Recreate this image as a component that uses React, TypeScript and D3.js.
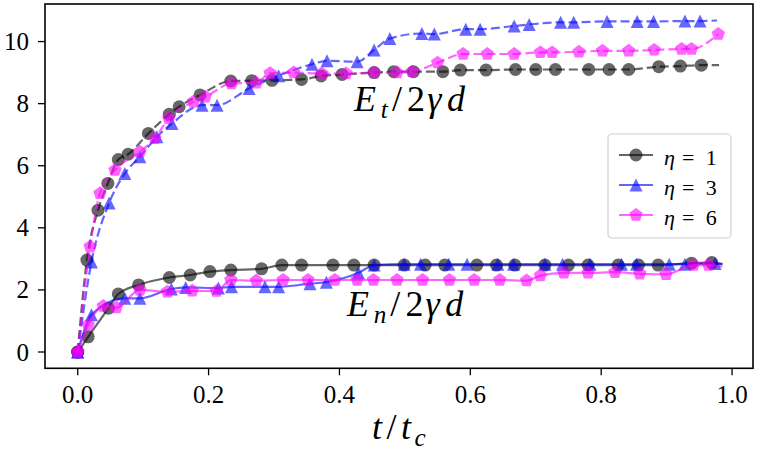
import React from 'react';
import * as d3 from 'd3';

// ---------- data ----------
const xTicks = [0, 0.2, 0.4, 0.6, 0.8, 1.0];
const yTicks = [0, 2, 4, 6, 8, 10];
const etaLabels = ['1', '3', '6'];

// Tangential energy E_t/2γd (dashed)
const etEta1X = [0, 0.014, 0.031, 0.046, 0.062, 0.077, 0.108, 0.140, 0.155, 0.187, 0.234, 0.266, 0.297, 0.342, 0.372, 0.404, 0.453, 0.483, 0.513, 0.558, 0.585, 0.624, 0.669, 0.700, 0.730, 0.781, 0.812, 0.842, 0.888, 0.921, 0.953, 0.980];
const etEta1Y = [0, 2.96, 4.57, 5.43, 6.20, 6.37, 7.04, 7.66, 7.90, 8.28, 8.73, 8.74, 8.75, 8.78, 8.89, 8.94, 9.00, 9.03, 9.03, 9.03, 9.08, 9.08, 9.10, 9.10, 9.10, 9.10, 9.10, 9.10, 9.19, 9.21, 9.24, 9.24];
const etEta3X = [0, 0.021, 0.048, 0.072, 0.095, 0.121, 0.144, 0.190, 0.213, 0.262, 0.307, 0.358, 0.381, 0.427, 0.453, 0.477, 0.526, 0.545, 0.593, 0.615, 0.667, 0.690, 0.738, 0.758, 0.809, 0.855, 0.880, 0.928, 0.951, 0.977];
const etEta3Y = [0, 2.90, 4.80, 5.75, 6.29, 6.93, 7.36, 7.95, 7.95, 8.49, 8.90, 9.27, 9.38, 9.35, 9.73, 10.10, 10.26, 10.24, 10.40, 10.40, 10.50, 10.55, 10.62, 10.62, 10.65, 10.65, 10.65, 10.66, 10.66, 10.68];
const etEta6X = [0, 0.019, 0.034, 0.057, 0.095, 0.118, 0.139, 0.177, 0.195, 0.235, 0.273, 0.294, 0.330, 0.373, 0.410, 0.453, 0.488, 0.511, 0.550, 0.589, 0.626, 0.667, 0.707, 0.725, 0.766, 0.802, 0.842, 0.881, 0.923, 0.938, 0.979];
const etEta6Y = [0, 3.39, 5.11, 5.86, 6.45, 6.88, 7.53, 8.06, 8.22, 8.65, 8.67, 8.98, 9.00, 8.97, 8.97, 9.00, 9.00, 9.03, 9.32, 9.60, 9.60, 9.60, 9.65, 9.65, 9.67, 9.70, 9.70, 9.73, 9.76, 9.76, 10.24];

// Normal energy E_n/2γd (solid)
const enEta1X = [0, 0.016, 0.047, 0.062, 0.093, 0.140, 0.172, 0.202, 0.234, 0.281, 0.312, 0.342, 0.390, 0.422, 0.453, 0.499, 0.531, 0.561, 0.610, 0.640, 0.668, 0.714, 0.750, 0.780, 0.826, 0.857, 0.887, 0.938, 0.969, 0.984];
const enEta1Y = [0, 0.49, 1.41, 1.87, 2.16, 2.40, 2.48, 2.59, 2.64, 2.68, 2.80, 2.80, 2.80, 2.80, 2.80, 2.80, 2.80, 2.80, 2.80, 2.80, 2.80, 2.80, 2.80, 2.80, 2.80, 2.80, 2.80, 2.86, 2.88, 2.84];
const enEta3X = [0, 0.021, 0.072, 0.095, 0.143, 0.165, 0.215, 0.235, 0.286, 0.307, 0.355, 0.380, 0.429, 0.453, 0.499, 0.524, 0.567, 0.595, 0.642, 0.666, 0.714, 0.741, 0.783, 0.831, 0.854, 0.904, 0.928, 0.974, 0.986];
const enEta3Y = [0, 1.20, 1.73, 1.73, 2.03, 2.08, 2.06, 2.10, 2.10, 2.10, 2.20, 2.25, 2.55, 2.80, 2.83, 2.83, 2.83, 2.83, 2.83, 2.83, 2.83, 2.83, 2.83, 2.83, 2.83, 2.83, 2.83, 2.85, 2.83];
const enEta6X = [0, 0.016, 0.039, 0.059, 0.095, 0.137, 0.175, 0.212, 0.234, 0.273, 0.314, 0.352, 0.393, 0.427, 0.452, 0.488, 0.527, 0.568, 0.606, 0.645, 0.686, 0.707, 0.743, 0.780, 0.821, 0.859, 0.899, 0.941, 0.964, 0.985];
const enEta6Y = [0, 0.87, 1.48, 1.43, 2.00, 1.94, 1.97, 1.96, 2.32, 2.30, 2.32, 2.32, 2.32, 2.32, 2.32, 2.32, 2.32, 2.32, 2.32, 2.32, 2.30, 2.46, 2.55, 2.55, 2.57, 2.52, 2.50, 2.80, 2.80, 2.75];

// ---------- styling ----------
const W = 764;
const H = 460;
const FONT = 'Liberation Serif, DejaVu Serif, Times New Roman, serif';
const COLORS = ['#000000', '#0000ff', '#ff00ff'];
const SHAPES = ['o', '^', 'p'] as const;
const ALPHA = 0.6;
const MS = 13;

type Shape = 'o' | '^' | 'p';
type Series = { xs: number[]; ys: number[]; marked: number; color: string; shape: Shape; dashed: boolean };

const series: Series[] = [
  { xs: etEta1X, ys: etEta1Y, marked: etEta1X.length - 1, color: COLORS[0], shape: 'o', dashed: true },
  { xs: enEta1X, ys: enEta1Y, marked: enEta1X.length - 1, color: COLORS[0], shape: 'o', dashed: false },
  { xs: etEta3X, ys: etEta3Y, marked: etEta3X.length - 1, color: COLORS[1], shape: '^', dashed: true },
  { xs: enEta3X, ys: enEta3Y, marked: enEta3X.length - 1, color: COLORS[1], shape: '^', dashed: false },
  { xs: etEta6X, ys: etEta6Y, marked: etEta6X.length, color: COLORS[2], shape: 'p', dashed: true },
  { xs: enEta6X, ys: enEta6Y, marked: enEta6X.length - 1, color: COLORS[2], shape: 'p', dashed: false },
];

const x = d3.scaleLinear().domain([-0.05, 1.032]).range([45, 753]);
const y = d3.scaleLinear().domain([-0.525, 11.21]).range([368.3, 4]);

function markerPath(shape: Shape, cx: number, cy: number, size: number): string {
  const r = size / 2;
  const p = d3.path();
  if (shape === 'o') {
    p.moveTo(cx + r, cy);
    p.arc(cx, cy, r, 0, Math.PI * 2);
  } else if (shape === '^') {
    p.moveTo(cx, cy - r);
    p.lineTo(cx - r, cy + r);
    p.lineTo(cx + r, cy + r);
  } else {
    const R = r * 1.08;
    for (let i = 0; i < 5; i++) {
      const a = -Math.PI / 2 + (i * 2 * Math.PI) / 5;
      const px = cx + R * Math.cos(a);
      const py = cy + R * Math.sin(a);
      if (i === 0) p.moveTo(px, py);
      else p.lineTo(px, py);
    }
  }
  p.closePath();
  return p.toString();
}

type Part = { t: string; w: number; it?: boolean; sub?: boolean };

function MathText({ x0, y0, size, parts, anchor = 'start' }: { x0: number; y0: number; size: number; parts: Part[]; anchor?: string }) {
  const total = parts.reduce((s, p) => s + p.w * (p.sub ? 0.7 : 1) * size, 0);
  let cur = anchor === 'middle' ? x0 - total / 2 : x0;
  const spans = parts.map((p, i) => {
    const fs = p.sub ? size * 0.7 : size;
    const el = (
      <tspan key={i} x={cur} y={y0 + (p.sub ? size * 0.2 : 0)} style={{ fontSize: fs + 'px', fontStyle: p.it ? 'italic' : 'normal' }}>
        {p.t}
      </tspan>
    );
    cur += p.w * fs;
    return el;
  });
  return (
    <text style={{ fontFamily: FONT }} fill="#000">
      {spans}
    </text>
  );
}

export default function App() {
  const fmtX = d3.format('.1f');

  return (
    <svg width={W} height={H} style={{ position: 'absolute', left: 0, top: 0, background: '#fff', fontFamily: FONT }}>
      <rect x={0} y={0} width={W} height={H} fill="#fff" />
      {/* series */}
      {series.map((s, si) => {
        const pts: [number, number][] = s.xs.map((v, i) => [x(v), y(s.ys[i])]);
        const d = d3.line().curve(d3.curveMonotoneX)(pts) || '';
        return (
          <g key={si}>
            <path
              d={d}
              fill="none"
              stroke={s.color}
              strokeOpacity={ALPHA}
              strokeWidth={2.2}
              strokeDasharray={s.dashed ? '9,4' : undefined}
            />
            {pts.slice(0, s.marked).map((pt, i) => (
              <path key={i} d={markerPath(s.shape, pt[0], pt[1], MS)} fill={s.color} fillOpacity={ALPHA} />
            ))}
          </g>
        );
      })}

      {/* axes frame */}
      <rect x={x.range()[0]} y={y.range()[1]} width={x.range()[1] - x.range()[0]} height={y.range()[0] - y.range()[1]} fill="none" stroke="#000" strokeWidth={1.6} />

      {/* x ticks */}
      {xTicks.map((t) => (
        <g key={'xt' + t}>
          <line x1={x(t)} x2={x(t)} y1={y.range()[0]} y2={y.range()[0] + 7} stroke="#000" strokeWidth={1.3} />
          <text x={x(t)} y={403} textAnchor="middle" style={{ fontFamily: FONT, fontSize: '25px' }} fill="#000">
            {fmtX(t)}
          </text>
        </g>
      ))}
      {/* y ticks */}
      {yTicks.map((t) => (
        <g key={'yt' + t}>
          <line x1={x.range()[0] - 7} x2={x.range()[0]} y1={y(t)} y2={y(t)} stroke="#000" strokeWidth={1.3} />
          <text x={29} y={y(t) + 8.5} textAnchor="end" style={{ fontFamily: FONT, fontSize: '25px' }} fill="#000">
            {String(t)}
          </text>
        </g>
      ))}

      {/* axis label */}
      <MathText
        x0={(x.range()[0] + x.range()[1]) / 2}
        y0={439}
        size={36}
        anchor="middle"
        parts={[
          { t: 't', w: 0.4, it: true },
          { t: '/', w: 0.4 },
          { t: 't', w: 0.38, it: true },
          { t: 'c', w: 0.45, it: true, sub: true },
        ]}
      />

      {/* annotations */}
      <MathText
        x0={354}
        y0={111}
        size={36}
        parts={[
          { t: 'E', w: 0.74, it: true },
          { t: 't', w: 0.45, it: true, sub: true },
          { t: '/', w: 0.42 },
          { t: '2', w: 0.56 },
          { t: 'γ', w: 0.55, it: true },
          { t: 'd', w: 0.52, it: true },
        ]}
      />
      <MathText
        x0={347}
        y0={316}
        size={36}
        parts={[
          { t: 'E', w: 0.74, it: true },
          { t: 'n', w: 0.66, it: true, sub: true },
          { t: '/', w: 0.42 },
          { t: '2', w: 0.56 },
          { t: 'γ', w: 0.55, it: true },
          { t: 'd', w: 0.52, it: true },
        ]}
      />

      {/* legend */}
      <g>
        <rect x={608} y={134} width={123} height={104} rx={4} fill="#fff" fillOpacity={0.8} stroke="#d0d0d0" strokeWidth={1.2} />
        {etaLabels.map((lab, i) => {
          const cy = 155 + i * 30;
          return (
            <g key={lab}>
              <line x1={619} x2={653} y1={cy} y2={cy} stroke={COLORS[i]} strokeOpacity={ALPHA} strokeWidth={2.2} />
              <path d={markerPath(SHAPES[i], 636, cy, MS)} fill={COLORS[i]} fillOpacity={ALPHA} />
              <text style={{ fontFamily: FONT, fontSize: '22px' }} fill="#000">
                <tspan x={664} y={cy + 10} style={{ fontStyle: 'italic' }}>η</tspan>
                <tspan x={664 + 22 * 0.82} y={cy + 10}>=</tspan>
                <tspan x={664 + 22 * 1.9} y={cy + 10}>{lab}</tspan>
              </text>
            </g>
          );
        })}
      </g>
    </svg>
  );
}
